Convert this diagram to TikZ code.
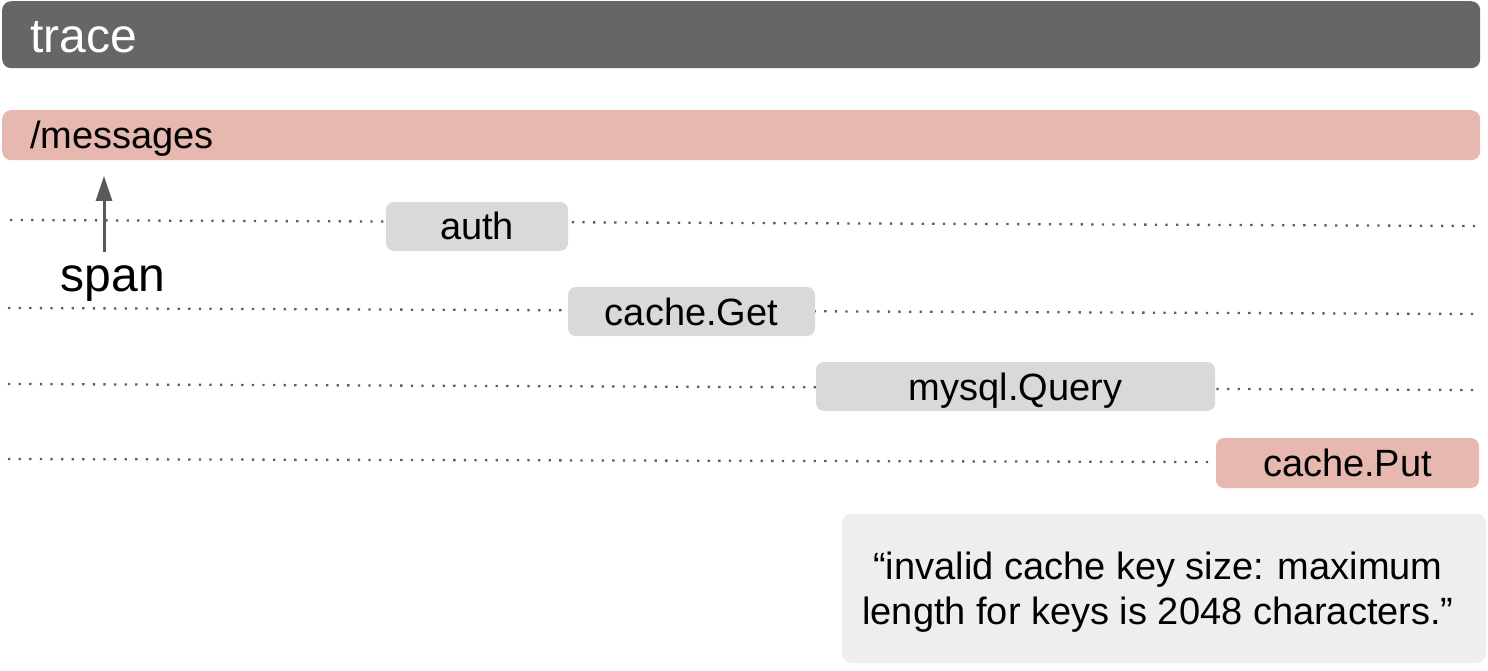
\documentclass[tikz,border=0pt]{standalone}
\usepackage{fontspec}
\setmainfont{Liberation Sans}
\usetikzlibrary{arrows.meta}

\definecolor{tracegray}{HTML}{666666}
\definecolor{spanpink}{HTML}{E6B8AF}
\definecolor{boxgray}{HTML}{D9D9D9}
\definecolor{notegray}{HTML}{EEEEEE}
\definecolor{dotgray}{HTML}{5E5E5E}
\definecolor{arrowgray}{HTML}{595959}

\begin{document}
\begin{tikzpicture}[>={Triangle[length=25pt,width=16pt]},x=1pt,y=-1pt]
    \tikzstyle{every node}=[inner sep=0pt]
    \tikzstyle{bar}=[rounded corners=9pt, anchor=north west, minimum width=1478pt]
    \tikzstyle{label}=[font=\fontsize{38}{45}\selectfont, text depth=0pt]
    \tikzstyle{spanbox}=[rounded corners=8pt, fill=boxgray, label, text height=27pt, minimum height=49pt]
    \tikzstyle{rowline}=[draw=dotgray, line width=2.3pt, dash pattern=on 2.3pt off 8.3pt]
    \useasboundingbox (0,0) rectangle (1488,671);
    % trace and root span
    \node[bar, fill=tracegray, minimum height=67pt] (trace) at (2,1) {};
    \node[anchor=west, white, font=\fontsize{48}{56}\selectfont] (tracetext) at (30,37) {trace};
    \node[bar, fill=spanpink, minimum height=50pt] (messages) at (2,110) {};
    \node[anchor=west, label] (messagestext) at (30,135) {/messages};
    % rows
    \coordinate (r1a) at (10,220);   \coordinate (r1b) at (1478,226);
    \coordinate (r2a) at (8,308);    \coordinate (r2b) at (1475,314);
    \coordinate (r3a) at (8,384);    \coordinate (r3b) at (1475,390);
    \coordinate (r4a) at (8,459);    \coordinate (r4b) at (1216,462);
    \draw[rowline] (r1a)--(r1b);
    \draw[rowline] (r2a)--(r2b);
    \draw[rowline] (r3a)--(r3b);
    \draw[rowline] (r4a)--(r4b);
    \node[spanbox, minimum width=182pt] (auth) at (477,226.5) {auth};
    \node[spanbox, minimum width=247pt] (get) at (691.5,311.5) {cache.Get};
    \node[spanbox, minimum width=399pt] (query) at (1015.5,386.5) {mysql.Query};
    \node[spanbox, minimum width=263pt, minimum height=50pt, fill=spanpink] (put) at (1347.5,463) {cache.Put};
    % span pointer
    \node[font=\fontsize{48}{56}\selectfont] (span) at (113,284) {span};
    \coordinate (tail) at (104,252);
    \coordinate (tip) at (104,176);
    \draw[->, arrowgray, line width=3pt] (tail)--(tip);
    % error message
    \node[rounded corners=9pt, fill=notegray, minimum width=644pt, minimum height=149pt,
          label, align=center] (note) at (1164,588.5)
          {“invalid cache key size: maximum\hspace*{12pt}\\length for keys is 2048 characters.”\hspace*{12pt}};
\end{tikzpicture}
\end{document}
